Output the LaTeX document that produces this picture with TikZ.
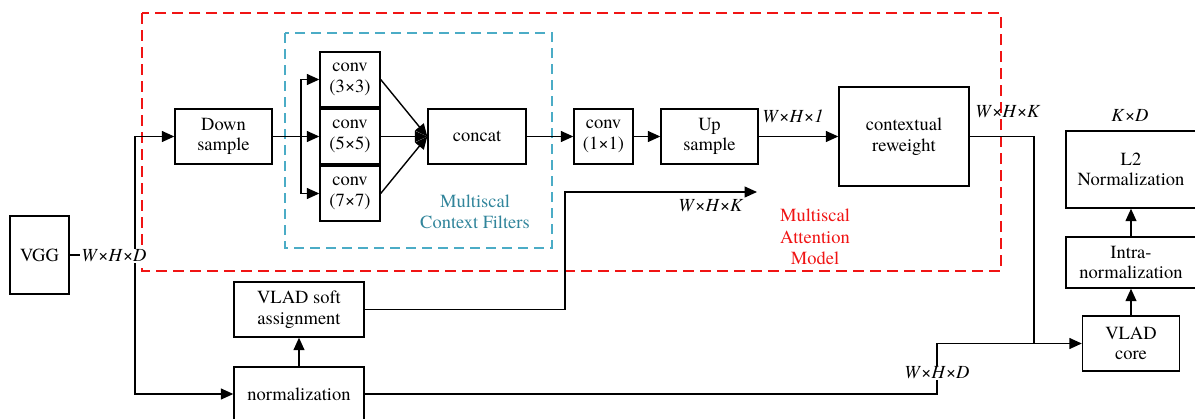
\documentclass[tikz,border=0pt]{standalone}
\usepackage{fontspec}
\setmainfont{texgyretermes}[Extension=.otf, UprightFont=*-regular, ItalicFont=*-italic, BoldFont=*-bold, BoldItalicFont=*-bolditalic]
\usetikzlibrary{arrows.meta}
\definecolor{cybox}{RGB}{75,172,198}
\definecolor{cytext}{RGB}{49,133,155}
\definecolor{redbox}{RGB}{240,20,20}
\begin{document}
\begin{tikzpicture}[x=1pt,y=-1pt,
  every node/.style={font=\rmfamily\fontsize{18.5}{20.5}\selectfont},
  blk/.style={draw, line width=1.4pt, inner sep=0pt, align=center},
  conn/.style={line width=1.4pt},
  arr/.style={conn, -{Triangle[length=12.5pt,width=11pt]}},
  lbl/.style={font=\rmfamily\fontsize{18.5}{20.5}\selectfont, inner sep=1pt},
  dimlbl/.style={lbl, fill=white},
  captext/.style={align=center, font=\rmfamily\fontsize{18.5}{21.5}\selectfont}]
\useasboundingbox (0,0) rectangle (1195,418);
\clip (0,0) rectangle (1195,418);

% group frames
\draw[redbox, line width=1.4pt, dash pattern=on 11pt off 6pt] (142,13) rectangle (1001,271);
\draw[cybox, line width=1.4pt, dash pattern=on 10pt off 6pt] (285,33) rectangle (552,248);

% blocks
\node[blk, minimum width=59, minimum height=78] (vgg) at (39.5,255) {VGG};
\node[blk, minimum width=97, minimum height=55] (down) at (223.5,136.5) {Down\\sample};
\node[blk, minimum width=60, minimum height=55] (c3) at (350,79.5) {conv\\(3×3)};
\node[blk, minimum width=60, minimum height=55] (c5) at (350,136.5) {conv\\(5×5)};
\node[blk, minimum width=60, minimum height=55] (c7) at (350,193.5) {conv\\(7×7)};
\node[blk, minimum width=98, minimum height=55] (concat) at (477,136.5) {concat};
\node[blk, minimum width=59, minimum height=55] (c1) at (603.5,136.5) {conv\\(1×1)};
\node[blk, minimum width=97, minimum height=55] (up) at (709.5,136.5) {Up\\sample};
\node[blk, minimum width=130, minimum height=99] (ctx) at (904,136.5) {contextual\\reweight};
\node[blk, minimum width=130, minimum height=77] (l2) at (1131,169.5) {L2\\Normalization};
\node[blk, minimum width=130, minimum height=51] (intra) at (1131,262.5) {Intra-\\normalization};
\node[blk, minimum width=97, minimum height=55] (core) at (1131,343.5) {VLAD\\core};
\node[blk, minimum width=130, minimum height=55] (soft) at (299,309.5) {VLAD soft\\assignment};
\node[blk, minimum width=130, minimum height=54] (norm) at (299,394) {normalization};

% junction coordinates
\coordinate (s1) at (135,255);
\coordinate (b) at (301,136.5);
\coordinate (j) at (1034,343.5);
\coordinate (m) at (937,394);
\coordinate (k) at (565,192);
\coordinate (e) at (757,192);

% connectors
\draw[arr] (vgg.east) -- (s1) |- (down.west);
\draw[arr] (s1) |- (norm.west);
\draw[conn] (down.east) -- (b);
\draw[arr] (b) |- (c3.west);
\draw[arr] (b) -- (c5.west);
\draw[arr] (b) |- (c7.west);
\draw[arr] (c3.east) -- (concat.west);
\draw[arr] (c5.east) -- (concat.west);
\draw[arr] (c7.east) -- (concat.west);
\draw[arr] (concat.east) -- (c1.west);
\draw[arr] (c1.east) -- (up.west);
\draw[arr] (up.east) -- (ctx.west);
\draw[conn] (ctx.east) -| (j);
\draw[arr] (norm.east) -- (m) |- (core.west);
\draw[arr] (soft.east) -| (k) -- (e);
\draw[arr] (norm.north) -- (soft.south);
\draw[arr] (core.north) -- (intra.south);
\draw[arr] (intra.north) -- (l2.south);

% dimension labels
\node[dimlbl] (dvgg) at (114,256) {\textit{W}×\textit{H}×\textit{D}};
\node[dimlbl] (dnorm) at (937,373) {\textit{W}×\textit{H}×\textit{D}};
\node[lbl] (dup) at (793,116) {\textit{W}×\textit{H}×\textit{1}};
\node[lbl] (dctx) at (1008,112) {\textit{W}×\textit{H}×\textit{K}};
\node[lbl] (dsoft) at (711,206) {\textit{W}×\textit{H}×\textit{K}};
\node[lbl] (dl2) at (1130,115) {\textit{K}×\textit{D}};

% captions
\node[captext, text=cytext] (capmcf) at (475,212) {Multiscal\\Context Filters};
\node[captext, text=redbox] (capmam) at (815,237) {Multiscal\\Attention\\Model};
\end{tikzpicture}
\end{document}
